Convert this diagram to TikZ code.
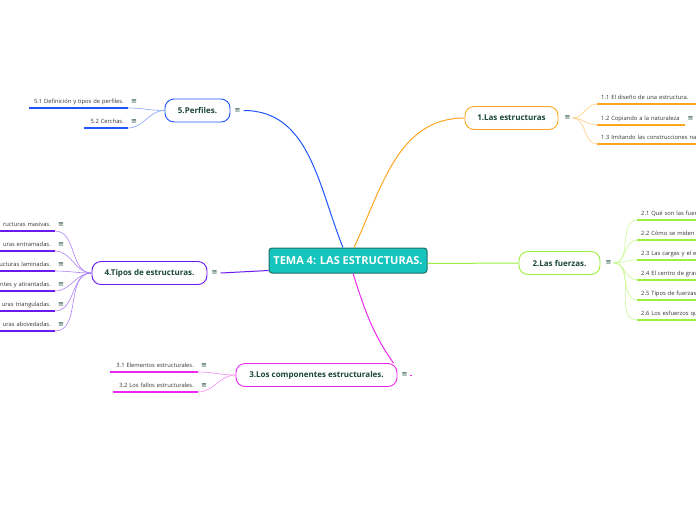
\documentclass[tikz,border=0pt]{standalone}
\usepackage{fontspec}
\setmainfont{Open Sans}
\newfontfamily\symfont{DejaVu Sans}
\usetikzlibrary{positioning}
\definecolor{mapteal}{RGB}{22,196,190}
\definecolor{mapedge}{RGB}{30,110,105}
\definecolor{maporange}{RGB}{255,165,31}
\definecolor{mapgreen}{RGB}{155,240,60}
\definecolor{mapmagenta}{RGB}{238,40,238}
\definecolor{mappurple}{RGB}{106,26,240}
\definecolor{mapblue}{RGB}{31,85,255}
\definecolor{maptext}{RGB}{25,70,55}
\tikzset{
  centre/.style={draw=mapedge,fill=mapteal,line width=1pt,rounded corners=3pt,
    text=white,font=\fontsize{11}{13}\selectfont\bfseries,
    minimum width=158pt,minimum height=25pt,inner sep=0pt},
  topic/.style={draw=#1,fill=white,line width=0.9pt,rounded corners=9pt,
    text=maptext,font=\fontsize{8}{10}\selectfont\bfseries,
    minimum height=23pt,inner sep=0pt},
  menu/.style={font=\symfont\fontsize{7}{8}\selectfont,text=maptext,inner sep=0pt},
  leaf/.style={font=\fontsize{5.8}{7}\selectfont,text=black!80,align=left,
    inner xsep=4pt,inner ysep=3.5pt,text height=4pt,text depth=1.2pt},
  uline/.style={append after command={(\tikzlastnode.south west)
    edge[draw=#1,line width=1.8pt] (\tikzlastnode.south east)}},
  branch/.style={draw=#1,line width=1pt},
  twig/.style={draw=#1!55,line width=0.6pt}
}
\begin{document}
\begin{tikzpicture}[x=1pt,y=-1pt]
\useasboundingbox (0,0) rectangle (696,520);
% centre and main topics
\node[centre] (c) at (348,260.5) {TEMA 4: LAS ESTRUCTURAS.};
\node[topic=maporange,minimum width=93pt] (t1) at (511.5,118) {1.Las estructuras};
\node[topic=mapgreen,minimum width=81pt] (t2) at (559.5,263) {2.Las fuerzas.};
\node[topic=mapmagenta,minimum width=161pt] (t3) at (316.5,375) {3.Los componentes estructurales.};
\node[topic=mappurple,minimum width=115pt] (t4) at (149.5,273) {4.Tipos de estructuras.};
\node[topic=mapblue,minimum width=65pt] (t5) at (197.5,110.5) {5.Perfiles.};
\node[menu,right=6pt of t1] (m1) {≡};
\node[menu,right=5pt of t2] (m2) {≡};
\node[menu,right=4pt of t3] (m3) {≡};
\node[menu,right=4pt of t4] (m4) {≡};
\node[menu,right=4pt of t5] (m5) {≡};
\draw[branch=mapblue] ([xshift=3pt]m5.east) to[out=0,in=112] ([xshift=-5pt]c.north);
\draw[branch=maporange] ([xshift=6pt]c.north) to[out=65,in=180] (t1.west);
\draw[branch=mapgreen] ([yshift=-3pt]c.east) -- (t2.west);
\draw[branch=mappurple] ([xshift=3pt]m4.east) -- ([yshift=-10pt]c.west);
\draw[branch=mapmagenta] ([xshift=5pt]c.south) to[out=-72,in=125] ([xshift=-4pt]t3.north east);
\draw[branch=mapmagenta] ([xshift=2pt]m3.east) -- ++(2pt,0);
% 1
\node[leaf,uline=maporange,text width=100pt,anchor=south west] (l11) at (597,104) {1.1 El diseño de una estructura.};
\node[leaf,uline=maporange,text width=80pt,anchor=south west] (l12) at (597,125) {1.2 Copiando a la naturaleza};
\node[leaf,uline=maporange,text width=100pt,anchor=south west] (l13) at (597,144) {1.3 Imitando las construcciones na};
\node[menu,right=2pt of l12] (d12) {≡};
\foreach \l in {l11,l12,l13}
  \draw[twig=maporange] ([xshift=2pt]m1.east) to[out=0,in=180] (\l.south west);
% 2
\foreach \t [count=\k] in {2.1 Qué son las fuer,2.2 Cómo se miden l,2.3 Las cargas y el e,
    2.4 El centro de grav,2.5 Tipos de fuerzas,2.6 Los esfuerzos qu} {
  \node[leaf,uline=mapgreen,text width=80pt,anchor=south west] (l2\k) at (637,{200+20*\k}) {\t};
  \draw[twig=mapgreen] ([xshift=2pt]m2.east) to[out=0,in=180] (l2\k.south west);
}
% 3
\node[leaf,uline=mapmagenta,text width=80pt,align=right,anchor=south east] (l31) at (198,372) {3.1 Elementos estructurales.};
\node[leaf,uline=mapmagenta,text width=77pt,align=right,anchor=south east] (l32) at (198,392) {3.2 Los fallos estructurales.};
\node[menu,right=3pt of l31] (d31) {≡};
\node[menu,right=3pt of l32] (d32) {≡};
\foreach \l in {l31,l32}
  \draw[twig=mapmagenta] (t3.west) to[out=180,in=0] (\l.south east);
% 4
\foreach \t [count=\k] in {ructuras masivas.,uras entramadas.,ucturas laminadas.,
    ntes y atirantadas.,uras trianguladas.,uras abovedadas.} {
  \node[leaf,uline=mappurple,text width=60pt,align=right,anchor=south east] (l4\k) at (55,{211+20*\k}) {\t};
  \node[menu,right=3pt of l4\k] (d4\k) {≡};
  \draw[twig=mappurple] (t4.west) to[out=180,in=0] (l4\k.south east);
}
% 5
\node[leaf,uline=mapblue,text width=91pt,align=right,anchor=south east] (l51) at (128,108) {5.1 Definición y tipos de perfiles.};
\node[leaf,uline=mapblue,text width=36pt,align=right,anchor=south east] (l52) at (128,128) {5.2 Cerchas.};
\node[menu,right=3pt of l51] (d51) {≡};
\node[menu,right=3pt of l52] (d52) {≡};
\foreach \l in {l51,l52}
  \draw[twig=mapblue] (t5.west) to[out=180,in=0] (\l.south east);
\end{tikzpicture}
\end{document}
